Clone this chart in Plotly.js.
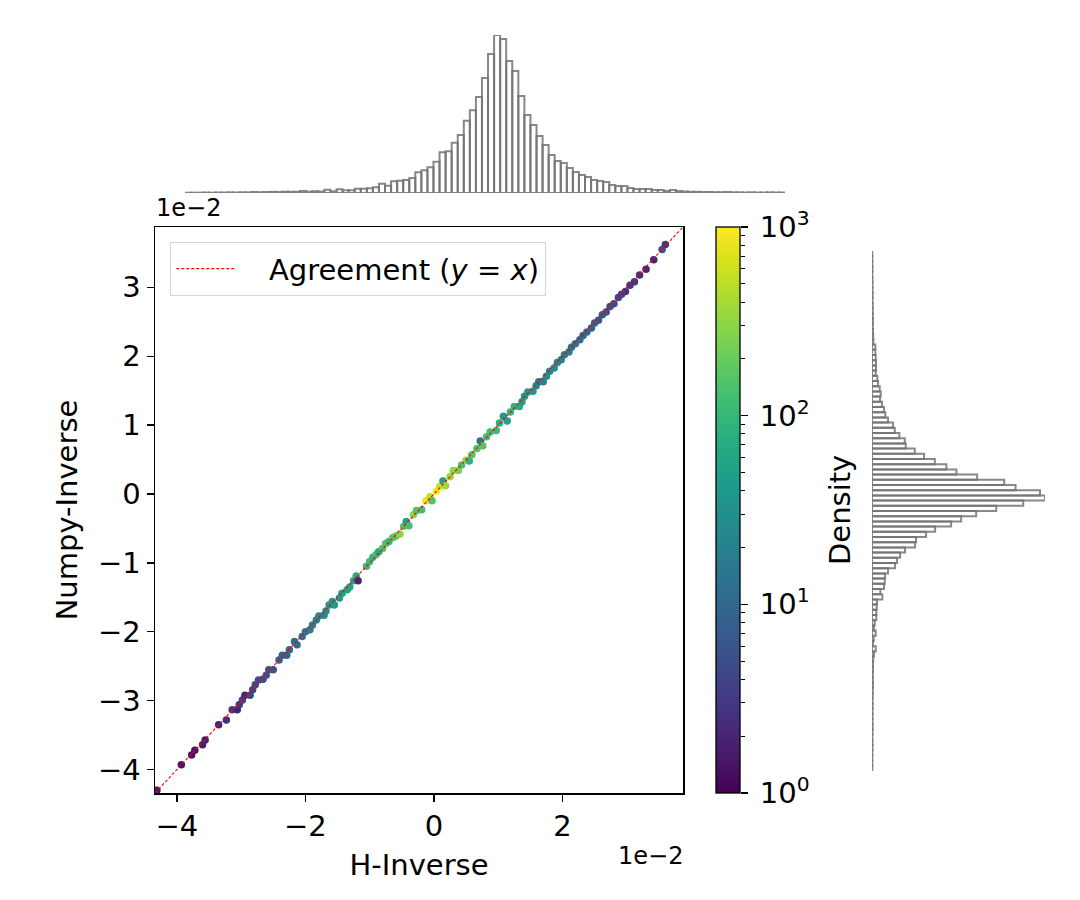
<!DOCTYPE html>
<html>
<head>
<meta charset="utf-8">
<script src="https://cdn.plot.ly/plotly-3.0.1.min.js"></script>
<style>
  body { margin: 0; background: white; }
  #chart { width: 1080px; height: 900px; }
</style>
</head>
<body>
<div id="chart"></div>
<script>
// main scatter, values in units of 1e-2
var scale = 1e-2;
var hInv = [-4.31,-3.93,-3.77,-3.72,-3.60,-3.56,-3.35,-3.23,-3.14,-3.06,-3.03,-2.98,-2.94,-2.86,-2.82,-2.78,-2.73,-2.66,-2.61,-2.57,
  -2.50,-2.41,-2.36,-2.29,-2.25,-2.17,-2.13,-2.05,-2.00,-1.93,-1.89,-1.83,-1.79,-1.71,-1.68,-1.63,-1.58,-1.55,-1.47,-1.43,
  -1.35,-1.31,-1.25,-1.21,-1.18,-1.05,-1.00,-0.95,-0.90,-0.86,-0.80,-0.75,-0.70,-0.64,-0.59,
  -0.53,-0.47,-0.43,-0.39,-0.32,-0.27,-0.19,-0.125,-0.06,-0.03,0.04,0.09,0.14,0.18,0.25,0.30,0.38,0.43,0.50,0.55,
  0.59,0.67,0.72,0.76,0.82,0.875,0.97,1.02,1.08,1.14,1.19,1.25,1.33,1.37,1.41,1.46,1.54,1.59,1.63,1.70,
  1.75,1.80,1.87,1.92,1.98,2.03,2.10,2.14,2.20,2.27,2.32,2.38,2.45,2.50,2.56,2.62,2.68,2.74,2.80,2.87,
  2.92,2.98,3.05,3.12,3.20,3.30,3.42,3.55,3.60];
var npInv = [-4.30,-3.93,-3.79,-3.72,-3.64,-3.57,-3.35,-3.28,-3.13,-3.13,-3.06,-2.99,-2.92,-2.92,-2.84,-2.77,-2.70,-2.69,-2.63,-2.55,
  -2.55,-2.41,-2.34,-2.34,-2.26,-2.14,-2.19,-2.07,-2.00,-1.97,-1.90,-1.83,-1.77,-1.76,-1.70,-1.61,-1.56,-1.61,-1.51,-1.44,
  -1.39,-1.35,-1.26,-1.19,-1.26,-1.05,-0.98,-0.92,-0.88,-0.84,-0.79,-0.72,-0.69,-0.63,-0.61,
  -0.58,-0.47,-0.40,-0.46,-0.30,-0.24,-0.23,-0.10,-0.04,-0.10,0.04,0.11,0.19,0.12,0.25,0.34,0.34,0.42,0.49,0.48,
  0.57,0.66,0.77,0.70,0.83,0.90,0.92,1.03,1.13,1.06,1.19,1.27,1.27,1.34,1.42,1.48,1.49,1.57,1.63,1.63,
  1.71,1.78,1.83,1.91,1.95,2.02,2.06,2.13,2.18,2.24,2.30,2.35,2.41,2.48,2.52,2.60,2.64,2.72,2.76,2.85,
  2.90,2.94,3.03,3.08,3.18,3.26,3.40,3.55,3.62];
var density = [1.5,1.5,1.5,1.5,1.8,1.8,2,2.5,3,2,3,3.5,2,4,4,5,5,5,6,6,
  6,8,9,9,10,12,12,14,15,18,20,22,24,25,28,35,35,40,45,50,
  55,60,65,70,2,110,120,90,130,60,140,150,100,180,160,
  300,150,50,130,300,150,130,800,500,150,900,600,50,350,350,300,250,150,300,80,
  150,150,15,150,120,120,110,80,40,50,100,90,70,45,40,40,35,25,15,20,
  30,25,30,22,20,20,18,15,14,12,10,10,9,8,7,7,6,5,5,4,
  4,3,3,3,2.5,2,2,5,3];

var axisLim = [-4.34, 3.875];
var tickPos = [-4, -3, -2, -1, 0, 1, 2, 3];
var xTickPos = [-4, -2, 0, 2];

// marginal histograms, counts per bin
var topCounts = [3,3,3,5,3,5,5,7,5,7,7,10,8,10,12,10,13,12,13,20,13,18,15,
  33,17,37,27,27,43,43,47,57,93,73,117,123,130,150,207,227,257,313,407,417,503,580,723,827,960,
  1150,1390,1580,1540,1320,1220,970,780,680,570,480,380,320,300,250,210,180,160,130,120,110,80,70,70,
  50,40,40,40,30,30,20,30,20,15,12,12,10,10,8,8,10,7,7,5,7,5,5,7,5,5];
var rightCounts = [3,3,3,5,3,5,5,5,7,5,7,7,8,10,8,10,12,13,
  33,33,37,40,40,37,53,60,77,87,80,100,120,133,160,210,227,273,327,337,427,520,627,743,843,1050,1320,1433,1677,1727,1510,
  1240,
  1040,890,790,630,540,440,430,330,280,250,230,160,130,127,120,83,103,50,47,43,43,27,20,37,17,10,37,20,
  12,10,10,8,8,10,7,7,5,7,5,5,5,7,5,3,5,5,3,3,3,3];

var cbTicks = [1, 10, 100, 1000];
var cbTickText = ['10<sup>0</sup>', '10<sup>1</sup>', '10<sup>2</sup>', '10<sup>3</sup>'];
var cbMinor = [2,3,4,5,6,7,8,9,20,30,40,50,60,70,80,90,200,300,400,500,600,700,800,900];

var W = 1080, H = 900;
function px(x) { return x / W; }
function py(y) { return 1 - y / H; }

var binCenter = function (n) { var c = []; for (var i = 0; i < n; i++) c.push(i + 0.5); return c; };
var minusText = function (v) { return v < 0 ? '\u2212' + (-v) : String(v); };

var font = 'DejaVu Sans, Liberation Sans, sans-serif';
var fs = 29;
var histLine = {color: 'rgba(115,115,115,0.85)', width: 2};

var trace_pts = {
  x: hInv.map(function (v) { return v * scale; }),
  y: npInv.map(function (v) { return v * scale; }),
  type: 'scatter', mode: 'markers', showlegend: false,
  marker: {
    size: 7.5,
    color: density.map(function (d) { return Math.log10(d); }),
    colorscale: 'Viridis', cmin: 0, cmax: 3,
    line: {width: 0},
    colorbar: {
      x: px(716), xanchor: 'left', xpad: 0,
      y: py(793), yanchor: 'bottom', ypad: 0,
      len: (793 - 227) / H, lenmode: 'fraction',
      thickness: 24, thicknessmode: 'pixels',
      outlinewidth: 1.3, outlinecolor: 'black',
      ticks: '', showticklabels: false
    }
  },
  xaxis: 'x', yaxis: 'y'
};

var trace_line = {
  x: axisLim.map(function (v) { return v * scale; }),
  y: axisLim.map(function (v) { return v * scale; }),
  type: 'scatter', mode: 'lines',
  name: '\u00a0\u00a0\u00a0Agreement (<i>y</i> = <i>x</i>)',
  line: {color: 'red', width: 1.1, dash: '3px,2px'},
  xaxis: 'x', yaxis: 'y'
};

var trace_top = {
  x: binCenter(topCounts.length), y: topCounts, type: 'bar', showlegend: false,
  marker: {color: 'rgba(255,255,255,0)', line: histLine},
  xaxis: 'x2', yaxis: 'y2', hoverinfo: 'skip'
};

var trace_right = {
  x: rightCounts, y: binCenter(rightCounts.length), type: 'bar', orientation: 'h', showlegend: false,
  marker: {color: 'rgba(255,255,255,0)', line: histLine},
  xaxis: 'x3', yaxis: 'y3', hoverinfo: 'skip'
};

// holder trace so the colorbar tick axis gets drawn
var trace_cb = {
  x: [0.5], y: [1], type: 'scatter', mode: 'markers', showlegend: false,
  marker: {opacity: 0}, xaxis: 'x4', yaxis: 'y4', hoverinfo: 'skip'
};

var layout = {
  width: W, height: H,
  margin: {l: 0, r: 0, t: 0, b: 0},
  paper_bgcolor: 'white', plot_bgcolor: 'white',
  font: {family: font, size: fs, color: 'black'},
  bargap: 0,
  showlegend: true,
  legend: {
    x: px(170), y: py(242), xanchor: 'left', yanchor: 'top',
    bgcolor: 'white', bordercolor: '#d4d4d4', borderwidth: 1.3,
    font: {family: font, size: fs}, itemwidth: 60
  },
  xaxis: {
    domain: [px(155), px(683)],
    range: axisLim.map(function (v) { return v * scale; }),
    tickvals: xTickPos.map(function (v) { return v * scale; }),
    ticktext: xTickPos.map(minusText),
    ticks: 'outside', ticklen: 7, tickwidth: 1.3, tickcolor: 'black',
    tickfont: {size: fs},
    showline: true, linecolor: 'black', linewidth: 1.5, mirror: true,
    showgrid: false, zeroline: false,
    title: {text: 'H-Inverse', standoff: 12, font: {size: fs}},
    anchor: 'y'
  },
  yaxis: {
    domain: [py(793), py(227)],
    range: axisLim.map(function (v) { return v * scale; }),
    tickvals: tickPos.map(function (v) { return v * scale; }),
    ticktext: tickPos.map(minusText),
    ticks: 'outside', ticklen: 7, tickwidth: 1.3, tickcolor: 'black',
    tickfont: {size: fs},
    showline: true, linecolor: 'black', linewidth: 1.5, mirror: true,
    showgrid: false, zeroline: false,
    title: {text: 'Numpy-Inverse', standoff: 12, font: {size: fs}},
    anchor: 'x'
  },
  xaxis2: {domain: [px(185), px(785)], range: [0, topCounts.length], visible: false, anchor: 'y2'},
  yaxis2: {domain: [py(193), py(35)], range: [0, 1580], visible: false, anchor: 'x2'},
  xaxis3: {domain: [px(872), px(1045)], range: [0, 1727], visible: false, anchor: 'y3'},
  yaxis3: {domain: [py(771), py(251)], range: [rightCounts.length, 0], visible: false, anchor: 'x3'},
  xaxis4: {domain: [px(716), px(740)], range: [0, 1], visible: false, anchor: 'y4'},
  yaxis4: {
    domain: [py(793), py(227)], type: 'log', range: [0, 3], side: 'right', anchor: 'x4',
    tickvals: cbTicks, ticktext: cbTickText,
    ticks: 'outside', ticklen: 7, tickwidth: 1.3, tickcolor: 'black',
    ticklabelstandoff: 6,
    minor: {tickmode: 'array', tickvals: cbMinor, ticks: 'outside', ticklen: 4, tickwidth: 1, tickcolor: 'black', showgrid: false},
    showgrid: false, zeroline: false, showline: false,
    tickfont: {size: fs}
  },
  annotations: [
    {text: '1e\u22122', xref: 'paper', yref: 'paper', x: px(154), y: py(208),
     xanchor: 'left', yanchor: 'middle', showarrow: false, font: {size: 24}},
    {text: '1e\u22122', xref: 'paper', yref: 'paper', x: px(685), y: py(856),
     xanchor: 'right', yanchor: 'middle', showarrow: false, font: {size: 24}},
    {text: 'Density', xref: 'paper', yref: 'paper', x: px(840), y: py(510),
     xanchor: 'center', yanchor: 'middle', textangle: -90, showarrow: false, font: {size: fs}}
  ]
};

Plotly.newPlot('chart', [trace_pts, trace_line, trace_top, trace_right, trace_cb], layout, {displayModeBar: false, staticPlot: true});
</script>
</body>
</html>
